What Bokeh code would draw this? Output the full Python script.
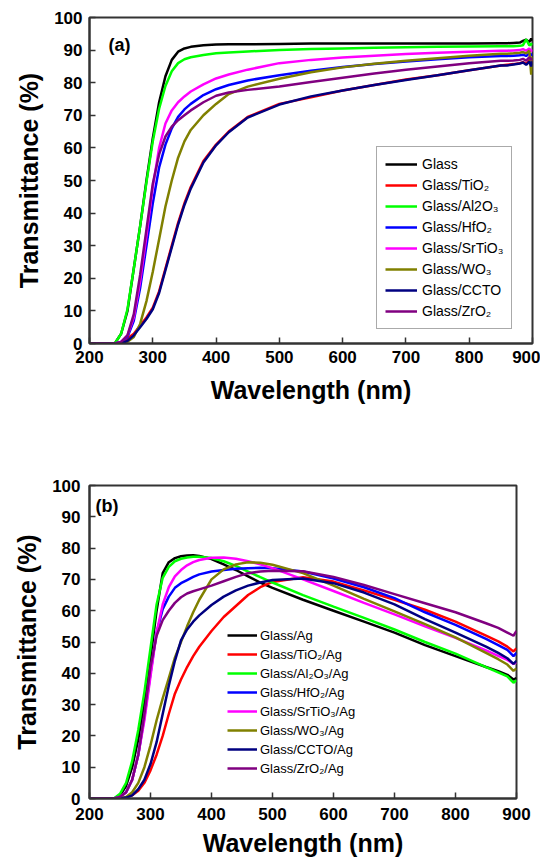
from bokeh.plotting import figure
from bokeh.models import Legend, LegendItem, Label, FixedTicker, Range1d
from bokeh.layouts import column
from bokeh.embed import file_html
from bokeh.resources import INLINE

# ---------------- data: panel (a) ----------------
wl_a = [200, 240, 250, 260, 270, 280, 290, 300, 310, 320, 330, 340, 350, 360, 380,
        400, 420, 450, 500, 550, 600, 650, 700, 750, 800, 850,
        860, 870, 880, 885, 890, 895, 898, 900]
glass_a = [0, 0, 3, 10, 23, 36, 50, 63, 74, 82, 87, 89.5, 90.5, 91, 91.5,
           91.7, 91.8, 91.8, 91.9, 92, 92, 92, 92, 92, 92, 92.1,
           92.1, 92.2, 92.3, 92.8, 93.2, 92.5, 93.5, 92.8]
tio2_a = [0, 0, 0.3, 1.5, 3, 5.5, 8, 11, 16, 23, 30, 37, 43, 48, 56,
          61, 65, 69.5, 73.5, 75.5, 77.6, 79.3, 81, 82.3, 83.8, 85.3,
          85.5, 85.7, 86, 86.3, 85.8, 86.8, 86.2, 86.8]
al2o3_a = [0, 0, 3, 10.5, 23, 36, 49.5, 62, 72, 79, 83.5, 86, 87.2, 87.8, 88.5,
           89, 89.3, 89.6, 90, 90.3, 90.5, 90.7, 90.9, 91, 91.1, 91.2,
           91.2, 91.2, 91.3, 91.5, 93.3, 91.4, 92, 91.5]
hfo2_a = [0, 0, 0.5, 2, 7, 17, 30, 43, 54, 61, 66, 69.5, 71.8, 73.5, 76.2,
          78, 79.3, 80.7, 82.3, 83.7, 84.8, 85.7, 86.5, 87.2, 87.8, 88.2,
          88.2, 88.3, 88.4, 88.6, 88.2, 89, 88.5, 88.8]
srtio3_a = [0, 0, 0.5, 2.5, 8, 19, 33, 48, 60, 67.5, 71.5, 74, 75.8, 77.3, 79.5,
            81.3, 82.5, 84, 86, 87, 87.7, 88.3, 88.8, 89.2, 89.5, 89.8,
            89.8, 89.9, 90, 90.3, 89.8, 90.5, 89.5, 90.2]
wo3_a = [0, 0, 0, 0.5, 2, 6, 13, 22, 32, 42, 50, 57, 62, 65.5, 70,
         73.5, 76.5, 78.8, 81.2, 83.2, 84.7, 85.8, 86.7, 87.5, 88.3, 88.9,
         88.9, 89, 89.2, 89.4, 89, 89.8, 82.5, 88]
ccto_a = [0, 0, 0, 0.8, 2.5, 5, 7.5, 10.5, 15.5, 22.5, 29.5, 36.5, 42.5, 47.5, 55.5,
          60.8, 64.8, 69.3, 73.3, 75.8, 77.6, 79.3, 80.8, 82.3, 83.8, 85.3,
          85.3, 85.6, 85.9, 86.2, 85.5, 86.5, 85, 86.6]
zro2_a = [0, 0, 0.5, 2.5, 9, 21, 35, 49, 58, 63.5, 66.5, 68.5, 70, 71.5, 74,
          76, 77, 77.8, 78.8, 80.2, 81.5, 82.8, 84, 85, 86, 86.7,
          86.7, 86.8, 87, 87.3, 86.8, 87.8, 87, 87.5]

labels_a = ["Glass", "Glass/TiO\u2082", "Glass/Al2O\u2083", "Glass/HfO\u2082",
            "Glass/SrTiO\u2083", "Glass/WO\u2083", "Glass/CCTO", "Glass/ZrO\u2082"]

# ---------------- data: panel (b) ----------------
wl_b = [200, 240, 250, 260, 270, 280, 290, 300, 310, 320, 330, 340, 350, 360, 370,
        380, 400, 420, 440, 460, 480, 500, 550, 600, 650, 700, 750, 800, 850,
        870, 885, 895, 900]
glass_b = [0, 0, 1, 4, 10, 19, 31, 45, 60, 72, 75.5, 76.8, 77.4, 77.6, 77.7,
           77.5, 76.5, 74.8, 73, 71, 69, 67.3, 63.5, 60, 56.5, 53, 49, 45.5, 42,
           40.7, 39.5, 38, 38.5]
tio2_b = [0, 0, 0, 0.3, 1, 2.5, 5, 9, 14, 20, 27, 33.5, 38, 42, 45.5,
          48.5, 53.5, 58, 61.5, 65, 67.5, 69.2, 70.7, 69.3, 66.5, 63.5, 60.3, 56.5, 52,
          50.2, 48.5, 47, 48]
al2o3_b = [0, 0, 1.5, 5, 12, 22, 34, 48, 62, 70.5, 74, 75.8, 76.6, 77, 77.2,
           77.2, 76.8, 75.8, 74.3, 72.5, 70.7, 69, 65, 61.3, 57.7, 54, 50, 46.3, 42,
           40.3, 39, 37, 37.8]
hfo2_b = [0, 0, 0.5, 2, 6, 14, 26, 40, 53, 60.5, 64.5, 67.3, 68.8, 69.8, 70.8,
          71.6, 72.5, 73, 73.4, 73.6, 73.7, 73.6, 72.5, 70.3, 67.5, 64, 59.5, 55.5, 51,
          49, 47.5, 45.5, 46.5]
srtio3_b = [0, 0, 0.5, 2, 6, 14, 25, 39, 53, 62, 67.5, 71, 73, 74.5, 75.5,
            76.2, 76.9, 77, 76.6, 75.8, 74.8, 73.6, 70, 66.3, 62.5, 58.8, 55, 51.3, 47.3,
            45.6, 44.3, 43, 43.5]
wo3_b = [0, 0, 0, 0.5, 2, 5, 10, 17, 25, 32, 38.5, 45, 50, 55, 59.5,
         63.5, 70, 73.2, 74.8, 75.5, 75.3, 74.7, 72, 68, 63.8, 59.8, 55.7, 51.5, 46.5,
         44.5, 42.8, 40.8, 41.5]
ccto_b = [0, 0, 0, 0.3, 1, 3, 6, 11, 18, 27, 36, 44, 50.5, 54, 56.5,
          58.5, 61.8, 64.5, 66.5, 68, 69, 69.8, 70.3, 68.8, 65.8, 62, 57.3, 53, 48.5,
          46.5, 44.8, 43, 44]
zro2_b = [0, 0, 0.5, 2, 6, 14, 27, 42, 52, 57, 60, 62.5, 64.3, 65.5, 66.2,
          66.8, 68, 69.4, 70.8, 72, 72.5, 72.8, 72.6, 70.8, 68.2, 65.3, 62.4, 59.5, 56,
          54.5, 53, 52, 53.5]

labels_b = ["Glass/Ag", "Glass/TiO\u2082/Ag", "Glass/Al\u2082O\u2083/Ag", "Glass/HfO\u2082/Ag",
            "Glass/SrTiO\u2083/Ag", "Glass/WO\u2083/Ag", "Glass/CCTO/Ag", "Glass/ZrO\u2082/Ag"]

colors = ["#000000", "#FF0000", "#00FF00", "#0000FF", "#FF00FF", "#808000", "#000080", "#800080"]
x_ticks = [200, 300, 400, 500, 600, 700, 800, 900]
y_ticks = [0, 10, 20, 30, 40, 50, 60, 70, 80, 90, 100]

FONT = "Liberation Sans"
AX = "#333333"


def make_fig(left, right, top, bottom, fw, fh, lab_so, ax_so_x, ax_so_y):
    p = figure(frame_width=fw, frame_height=fh, output_backend="svg", toolbar_location=None,
               x_range=Range1d(200, 900), y_range=Range1d(0, 100),
               x_axis_label="Wavelength (nm)", y_axis_label="Transmittance (%)")
    p.min_border_left = left
    p.min_border_right = right
    p.min_border_top = top
    p.min_border_bottom = bottom
    p.xgrid.visible = False
    p.ygrid.visible = False
    p.outline_line_color = AX
    p.outline_line_width = 2
    p.background_fill_color = "white"
    p.border_fill_color = "white"
    p.xaxis.ticker = FixedTicker(ticks=x_ticks)
    p.yaxis.ticker = FixedTicker(ticks=y_ticks)
    for ax in (p.xaxis[0], p.yaxis[0]):
        ax.axis_line_color = AX
        ax.axis_line_width = 2
        ax.major_tick_line_color = AX
        ax.major_tick_line_width = 1.5
        ax.major_tick_in = 6
        ax.major_tick_out = 0
        ax.minor_tick_in = 0
        ax.minor_tick_out = 0
        ax.major_label_text_font = FONT
        ax.major_label_text_font_style = "bold"
        ax.major_label_text_font_size = "17px"
        ax.major_label_text_color = "black"
        ax.axis_label_text_font = FONT
        ax.axis_label_text_font_style = "bold"
        ax.axis_label_text_font_size = "25px"
        ax.axis_label_text_color = "black"
        ax.major_label_standoff = lab_so
    p.xaxis[0].axis_label_standoff = ax_so_x
    p.yaxis[0].axis_label_standoff = ax_so_y
    return p


# ---------------- panel (a) ----------------
p1 = make_fig(81, 16, 17, 97, 443, 326, 7, 10, 8)
series_a = [glass_a, tio2_a, al2o3_a, hfo2_a, srtio3_a, wo3_a, ccto_a, zro2_a]
items_a = []
for ys, c, lab in zip(series_a, colors, labels_a):
    r = p1.line(wl_a, ys, line_color=c, line_width=2.5)
    items_a.append(LegendItem(label=lab, renderers=[r]))
leg_a = Legend(items=items_a, location=(287, 14), glyph_width=32, glyph_height=18,
               label_height=18, spacing=3, padding=8, margin=0, label_standoff=5,
               label_text_font=FONT, label_text_font_size="14px", label_text_color="black",
               border_line_color="#555555", border_line_width=1,
               background_fill_color="white", background_fill_alpha=1.0)
p1.add_layout(leg_a)
p1.add_layout(Label(x=230, y=91.7, text="(a)", text_font=FONT, text_font_style="bold",
                    text_font_size="18px", text_baseline="middle", text_color="black"))

# ---------------- panel (b) ----------------
p2 = make_fig(89, 24, 45, 61, 427, 313, 9, 6, 8)
series_b = [glass_b, tio2_b, al2o3_b, hfo2_b, srtio3_b, wo3_b, ccto_b, zro2_b]
items_b = []
for ys, c, lab in zip(series_b, colors, labels_b):
    r = p2.line(wl_b, ys, line_color=c, line_width=2.5)
    items_b.append(LegendItem(label=lab, renderers=[r]))
leg_b = Legend(items=items_b, location=(138, 22), glyph_width=30, glyph_height=16,
               label_height=16, spacing=3, padding=0, margin=0, label_standoff=3,
               label_text_font=FONT, label_text_font_size="13px", label_text_color="black",
               border_line_color=None, background_fill_alpha=0.0)
p2.add_layout(leg_b)
p2.add_layout(Label(x=210, y=93.3, text="(b)", text_font=FONT, text_font_style="bold",
                    text_font_size="18px", text_baseline="middle", text_color="black"))

layout = column(p1, p2, spacing=0)
open("out.html", "w").write(file_html(layout, INLINE))
